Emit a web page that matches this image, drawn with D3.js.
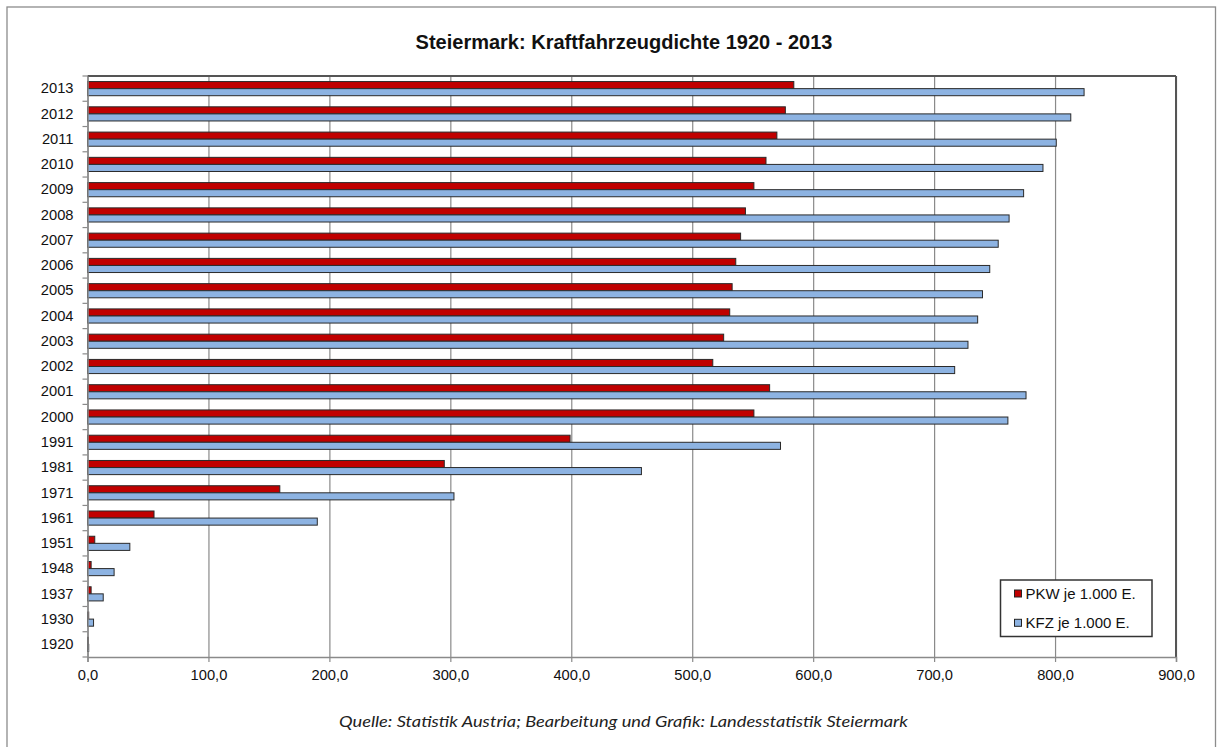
<!DOCTYPE html>
<html>
<head>
<meta charset="utf-8">
<script src="https://cdn.jsdelivr.net/npm/d3@7/dist/d3.min.js"></script>
<style>
  html, body { margin: 0; padding: 0; background: #fff; }
  svg { display: block; }
</style>
</head>
<body>
<svg id="chart" width="1217" height="747"></svg>
<script>
const years = ["2013","2012","2011","2010","2009","2008","2007","2006","2005","2004","2003","2002","2001","2000","1991","1981","1971","1961","1951","1948","1937","1930","1920"];
const pkw = [584, 577, 570, 561, 551, 544, 540, 536, 533, 531, 526, 517, 564, 551, 399, 295, 159, 55, 6, 3, 3, 1, 0.5];
const kfz = [824, 813, 801, 790, 774, 762, 753, 746, 740, 736, 728, 717, 776, 761, 573, 458, 303, 190, 35, 22, 13, 5, 1];
const xTicks = [0, 100, 200, 300, 400, 500, 600, 700, 800, 900];
const seriesNames = ["PKW je 1.000 E.", "KFZ je 1.000 E."];
const seriesKeys = ["pkw", "kfz"];
const colors = { pkw: "#C00000", kfz: "#8DB3E2" };
const titleText = "Steiermark: Kraftfahrzeugdichte 1920 - 2013";
const captionText = "Quelle: Statistik Austria; Bearbeitung und Grafik: Landesstatistik Steiermark";

const data = years.map((y, i) => ({ year: y, pkw: pkw[i], kfz: kfz[i] }));

const svg = d3.select("#chart");
const font = "'Liberation Sans', Arial, sans-serif";

const plot = { left: 87.5, right: 1176, top: 76, bottom: 657 };

// outer frame
svg.append("rect")
  .attr("x", 7).attr("y", 7).attr("width", 1208.5).attr("height", 760)
  .attr("fill", "#fff").attr("stroke", "#8c8c8c").attr("stroke-width", 1.3);

const x = d3.scaleLinear().domain([0, 900]).range([plot.left, plot.right]);
const y = d3.scaleBand().domain(years).range([plot.top, plot.bottom])
  .paddingInner(0.44).paddingOuter(0.22);
const ySub = d3.scaleBand().domain(seriesKeys).range([0, y.bandwidth()]);

// gridlines
svg.append("g")
  .attr("transform", `translate(0,${plot.bottom})`)
  .call(d3.axisBottom(x).tickValues(xTicks).tickSize(-(plot.bottom - plot.top)).tickFormat(""))
  .call(g => g.select(".domain").remove())
  .call(g => g.selectAll("line").attr("stroke", "#8a8a8a").attr("stroke-width", 1.2));

// bars
const groups = svg.append("g").selectAll("g")
  .data(data).join("g")
  .attr("transform", d => `translate(0,${y(d.year)})`);

groups.selectAll("rect")
  .data(d => seriesKeys.map(k => ({ key: k, value: d[k] })))
  .join("rect")
  .attr("x", x(0))
  .attr("y", d => ySub(d.key))
  .attr("width", d => Math.max(0.8, x(d.value) - x(0)))
  .attr("height", ySub.bandwidth())
  .attr("fill", d => colors[d.key])
  .attr("stroke", "#2a2a2a")
  .attr("stroke-width", 1);

// plot border top/right
svg.append("line").attr("x1", plot.left).attr("x2", plot.right).attr("y1", plot.top).attr("y2", plot.top)
  .attr("stroke", "#555").attr("stroke-width", 2);
svg.append("line").attr("x1", plot.right).attr("x2", plot.right).attr("y1", plot.top).attr("y2", plot.bottom)
  .attr("stroke", "#555").attr("stroke-width", 2);

// x axis
const xAxis = svg.append("g")
  .attr("transform", `translate(0,${plot.bottom})`)
  .call(d3.axisBottom(x).tickValues(xTicks).tickSize(5).tickPadding(8)
    .tickFormat(d => d3.format(".1f")(d).replace(".", ",")));
xAxis.select(".domain").attr("stroke", "#8a8a8a").attr("stroke-width", 1.5);
xAxis.selectAll("line").attr("stroke", "#8a8a8a").attr("stroke-width", 1.2);
xAxis.selectAll("text").attr("font-family", font).attr("font-size", "14.7px").attr("fill", "#111");

// y axis labels
const yAxis = svg.append("g")
  .attr("transform", `translate(${plot.left},0)`)
  .call(d3.axisLeft(y).tickSize(0).tickPadding(14));
yAxis.select(".domain").attr("stroke", "#8a8a8a").attr("stroke-width", 1.5);
yAxis.selectAll("text").attr("font-family", font).attr("font-size", "14.7px").attr("fill", "#111");

// y tick marks at band boundaries
const boundaries = d3.range(years.length + 1).map(i => plot.top + i * y.step());
svg.append("g").selectAll("line").data(boundaries).join("line")
  .attr("x1", plot.left - 5).attr("x2", plot.left)
  .attr("y1", d => d).attr("y2", d => d)
  .attr("stroke", "#8a8a8a").attr("stroke-width", 1.2);

// title
svg.append("text")
  .attr("x", 624).attr("y", 49)
  .attr("text-anchor", "middle")
  .attr("font-family", font).attr("font-weight", "bold").attr("font-size", "20px")
  .attr("fill", "#111")
  .text(titleText);

// legend
const lg = svg.append("g");
lg.append("rect")
  .attr("x", 1000.5).attr("y", 580).attr("width", 151.5).attr("height", 56.5)
  .attr("fill", "#fff").attr("stroke", "#333").attr("stroke-width", 1.5);
seriesKeys.forEach((k, i) => {
  const cy = 593.5 + i * 29.3;
  lg.append("rect")
    .attr("x", 1014.5).attr("y", cy - 3.5).attr("width", 7).attr("height", 7)
    .attr("fill", colors[k]).attr("stroke", "#222").attr("stroke-width", 1);
  lg.append("text")
    .attr("x", 1025.5).attr("y", cy + 5.3)
    .attr("font-family", font).attr("font-size", "15px").attr("fill", "#111")
    .text(seriesNames[i]);
});

// caption
svg.append("text")
  .attr("x", 339).attr("y", 727)
  .attr("font-family", "Lato, 'Open Sans', sans-serif").attr("font-style", "italic")
  .attr("font-size", "15px").attr("fill", "#222")
  .attr("textLength", 569).attr("lengthAdjust", "spacingAndGlyphs")
  .text(captionText);
</script>
</body>
</html>
